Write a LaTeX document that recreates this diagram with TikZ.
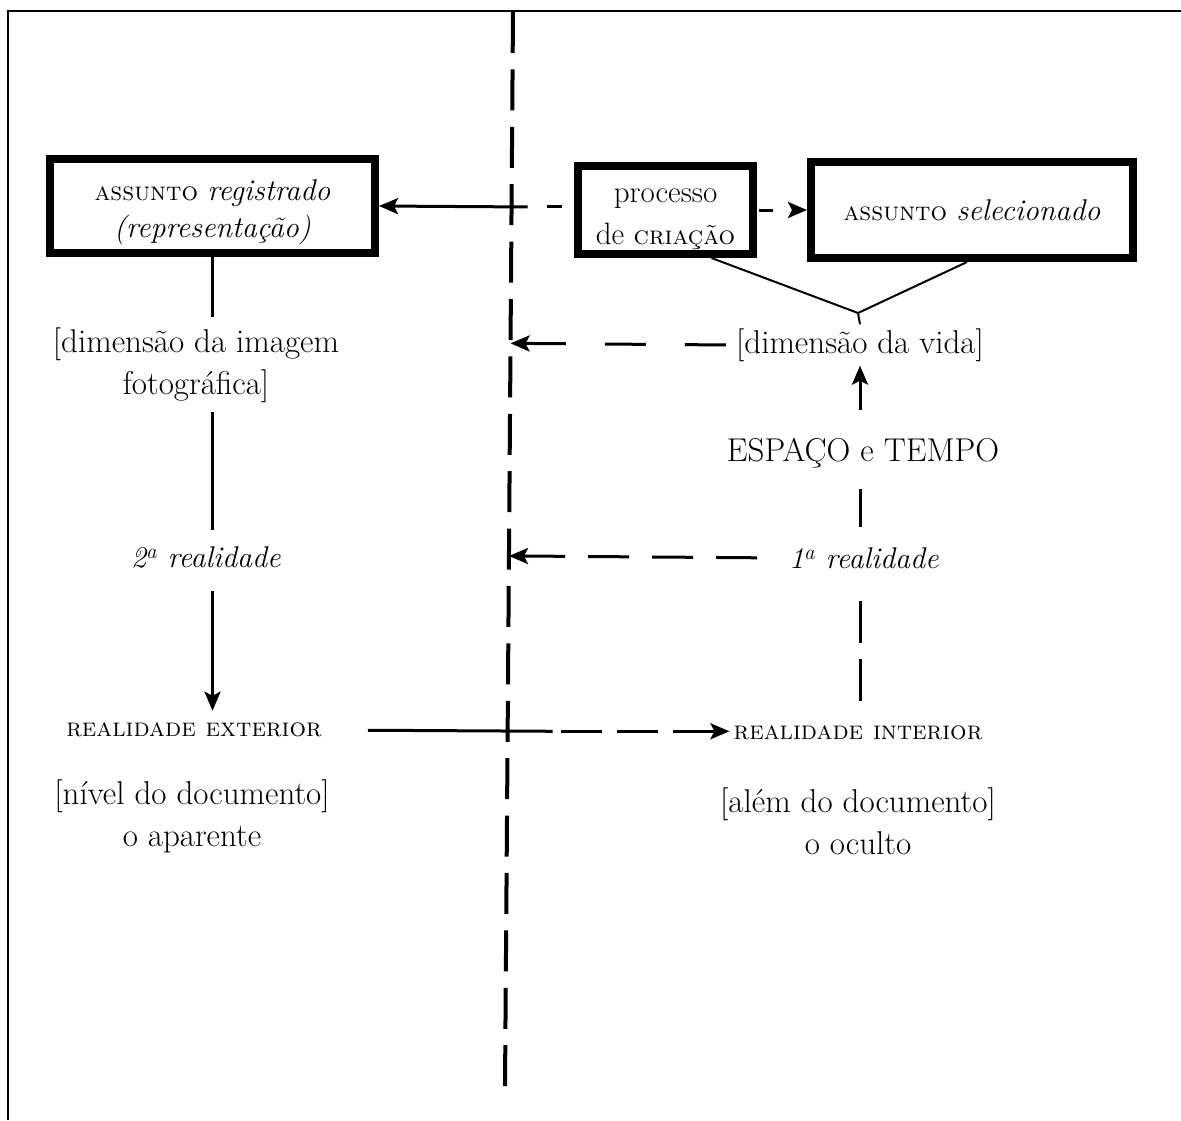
\documentclass[tikz,border=0pt]{standalone}
\usetikzlibrary{arrows.meta,calc}
\newcommand\scx[1]{{\fontsize{26}{30}\selectfont\textsc{#1}}}
\newcommand\itx[1]{{\fontsize{30}{30}\selectfont\textit{#1}}}
\begin{document}
\begin{tikzpicture}[x=1pt,y=-1pt,
  every node/.style={font=\fontsize{33}{42}\selectfont, align=center},
  txt/.style={inner sep=4pt},
  box/.style={draw, line width=8pt, inner sep=0pt, font=\fontsize{31}{37}\selectfont},
  conn/.style={line width=3pt},
  thinln/.style={line width=2pt},
  tip/.style={-{Stealth[length=19pt,width=16pt,inset=4pt]}}]
\useasboundingbox (0,0) rectangle (1181,1120);
\fill[white] (0,0) rectangle (1181,1120);
% frame
\draw[line width=2.5pt] (8,1120) -- (8,11) -- (1181,11);
% divider
\coordinate (dtop) at (513,12);
\coordinate (dbot) at (505,1087);
\draw[line width=4pt, dash pattern=on 41pt off 16.4pt] (dtop) -- (dbot);
% boxes
\node[box, minimum width=325pt, minimum height=94pt] (reg) at (212.5,206)
  {\rule{0pt}{34pt}\scx{assunto} \itx{registrado}\\\itx{(representação)}};
\node[box, minimum width=175pt, minimum height=88pt, font=\fontsize{31}{42}\selectfont] (proc) at (665.5,210)
  {\rule{0pt}{32pt}processo\\de \scx{criação}};
\node[box, minimum width=322pt, minimum height=96pt] (sel) at (972,210)
  {\scx{assunto} \itx{selecionado}};
% text nodes
\node[txt] (img) at (196,365) {[dimensão da imagem\\fotográfica]};
\node[txt] (r2) at (206,557) {\itx{2\textsuperscript{a} realidade}};
\node[txt] (ext) at (194,730) {\scx{realidade exterior}};
\node[txt] (niv) at (192,816) {[nível do documento]\\o aparente};
\node[txt] (vida) at (860,345) {[dimensão da vida]};
\node[txt] (esp) at (863,453) {ESPAÇO e TEMPO};
\node[txt] (r1) at (864,558) {\itx{1\textsuperscript{a} realidade}};
\node[txt] (int) at (858,733) {\scx{realidade interior}};
\node[txt] (alem) at (858,821) {[além do documento]\\o oculto};
% top horizontal
\coordinate (t1) at ($(dtop)!(reg.east)!(dbot)+(16,0)$);
\draw[conn, tip] (t1) -- (reg.east);
\draw[conn, dash pattern=on 15pt off 30pt, shorten <=12pt] (proc.west |- t1) -- (t1);
\draw[conn, tip, dash pattern=on 14pt off 30pt, shorten <=2pt] (proc.east) -- (sel.west);
% branch
\coordinate (v) at (858,313);
\draw[thinln] ([xshift=46pt]proc.south) -- (v) -- ([xshift=-5pt]sel.south);
\draw[thinln] (v) -- (vida.north);
% dashed arrows to divider
\coordinate (d2) at ($(dtop)!(vida.west)!(dbot)$);
\draw[conn, tip, dash pattern=on 41pt off 39pt, shorten <=6pt] (vida.west) -- (d2);
\coordinate (d3) at ($(dtop)!(r1.west)!(dbot)$);
\draw[conn, tip, dash pattern=on 41pt off 23pt, shorten <=28pt] (r1.west) -- (d3);
% right column
\draw[conn, tip, shorten <=24pt] (esp.north -| vida.south) -- (vida.south);
\draw[conn, shorten <=16pt, shorten >=17pt] (r1.north -| vida.south) -- (esp.south -| vida.south);
\draw[conn, dash pattern=on 42pt off 16pt, shorten <=21pt, shorten >=28pt] (int.north -| vida.south) -- (r1.south -| vida.south);
% left column
\draw[conn, shorten >=6pt] (reg.south) -- (reg.south |- img.north);
\draw[conn, shorten <=5pt, shorten >=12pt] (img.south -| reg.south) -- (r2.north -| reg.south);
\draw[conn, tip, shorten <=19pt, shorten >=8pt] (r2.south -| reg.south) -- (ext.north -| reg.south);
% bottom horizontal
\coordinate (bx) at ($(dtop)!(ext.east)!(dbot)+(45,0)$);
\draw[conn, shorten <=42pt] (ext.east) -- (bx);
\draw[conn, tip, dash pattern=on 41pt off 15pt, shorten <=8pt] (bx) -- (int.west |- bx);
\end{tikzpicture}
\end{document}
